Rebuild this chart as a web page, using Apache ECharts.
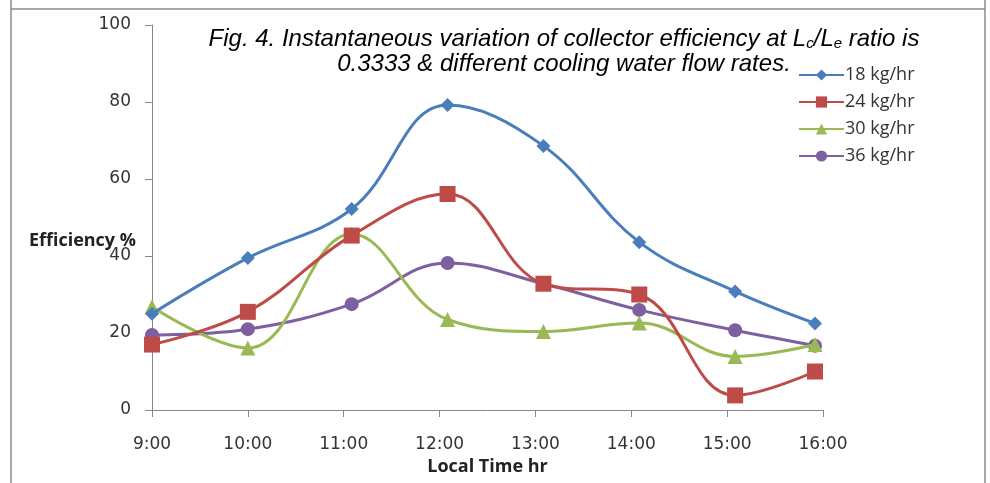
<!DOCTYPE html>
<html>
<head>
<meta charset="utf-8">
<script src="https://cdn.jsdelivr.net/npm/echarts@6/dist/echarts.min.js"></script>
<style>
  html, body { margin: 0; padding: 0; background: #fff; }
  #chart { width: 990px; height: 483px; }
</style>
</head>
<body>
<div id="chart"></div>
<script>
// Time of each reading, minutes after midnight
const times = [540, 600, 665, 725, 785, 845, 905, 955];
const xTickLabels = ['9:00', '10:00', '11:00', '12:00', '13:00', '14:00', '15:00', '16:00'];
const yTickLabels = ['0', '20', '40', '60', '80', '100'];
const seriesNames = ['18 kg/hr', '24 kg/hr', '30 kg/hr', '36 kg/hr'];
const eff18 = [25, 39.5, 52.2, 79.2, 68.6, 43.6, 30.8, 22.5];
const eff24 = [17, 25.5, 45.3, 56.1, 32.8, 30.0, 3.8, 10.0];
const eff30 = [26.8, 16.1, 45.7, 23.5, 20.4, 22.6, 13.9, 17.0];
const eff36 = [19.5, 21.0, 27.5, 38.2, 32.8, 26.0, 20.7, 16.7];
const yAxisName = 'Efficiency %';
const xAxisName = 'Local Time hr';

const colors = ['#4A7EBB', '#BE4B48', '#98B954', '#7D60A0'];
const symbols = ['diamond', 'rect', 'triangle', 'circle'];
const symbolSizes = [14, 16, 15, 14];
const allData = [eff18, eff24, eff30, eff36];

const chart = echarts.init(document.getElementById('chart'));

const series = allData.map((vals, i) => ({
  name: seriesNames[i],
  type: 'line',
  smooth: 0.4,
  data: vals.map((v, j) => [times[j], v]),
  symbol: symbols[i],
  symbolSize: symbolSizes[i],
  lineStyle: { width: 3, color: colors[i] },
  itemStyle: { color: colors[i] },
  z: 10 - i
}));

chart.setOption({
  animation: false,
  backgroundColor: '#fff',
  title: {
    left: 559,
    top: 22,
    textAlign: 'center',
    text: 'Fig. 4. Instantaneous variation of collector efficiency at L{s|c}/L{s|e} ratio is\n0.3333 & different cooling water flow rates.',
    textStyle: {
      fontFamily: 'Liberation Sans',
      fontStyle: 'italic',
      fontWeight: 'normal',
      fontSize: 24,
      color: '#000',
      lineHeight: 25,
      rich: {
        s: { fontFamily: 'Liberation Sans', fontStyle: 'italic', fontSize: 15, color: '#000', padding: [9, 0, 0, 0], lineHeight: 25 }
      }
    }
  },
  legend: {
    orient: 'vertical',
    left: 793,
    top: 61,
    itemWidth: 45,
    itemHeight: 14,
    itemGap: 9,
    data: seriesNames,
    textStyle: { fontFamily: 'Open Sans', fontSize: 18, color: '#333', padding: [0, 0, 0, -4] }
  },
  grid: { left: 152, right: 167, top: 25, bottom: 73, containLabel: false, outerBoundsMode: 'none' },
  xAxis: {
    type: 'value',
    min: 540,
    max: 960,
    interval: 60,
    name: xAxisName,
    nameLocation: 'middle',
    nameGap: 48,
    nameTextStyle: { fontFamily: 'Open Sans', fontWeight: 'bold', fontSize: 18, color: '#222' },
    axisLine: { lineStyle: { color: '#868686', width: 1 } },
    axisTick: { show: true, length: 7, lineStyle: { color: '#868686' } },
    splitLine: { show: false },
    axisLabel: {
      margin: 26,
      fontFamily: 'DejaVu Sans',
      fontSize: 17,
      color: '#333',
      formatter: v => xTickLabels[Math.round((v - 540) / 60)]
    }
  },
  yAxis: {
    type: 'value',
    min: 0,
    max: 100,
    interval: 20,
    axisLine: { show: true, lineStyle: { color: '#868686', width: 1 } },
    axisTick: { show: true, length: 7, lineStyle: { color: '#868686' } },
    splitLine: { show: false },
    axisLabel: {
      margin: 21,
      fontFamily: 'DejaVu Sans',
      fontSize: 17,
      color: '#333',
      padding: [6, 0, 0, 0],
      formatter: v => yTickLabels[Math.round(v / 20)]
    }
  },
  graphic: [
    { type: 'line', shape: { x1: 11, y1: 9, x2: 985, y2: 9 }, style: { stroke: '#8a8a8a', lineWidth: 1.5 } },
    { type: 'line', shape: { x1: 11, y1: 0, x2: 11, y2: 483 }, style: { stroke: '#8a8a8a', lineWidth: 1.5 } },
    { type: 'line', shape: { x1: 985, y1: 0, x2: 985, y2: 483 }, style: { stroke: '#8a8a8a', lineWidth: 1.5 } },
    { type: 'text', x: 136, y: 241, style: { text: yAxisName, fontFamily: 'Open Sans', fontWeight: 'bold', fontSize: 18, fill: '#222', textAlign: 'right', textVerticalAlign: 'middle' } }
  ],
  series: series
});
</script>
</body>
</html>
